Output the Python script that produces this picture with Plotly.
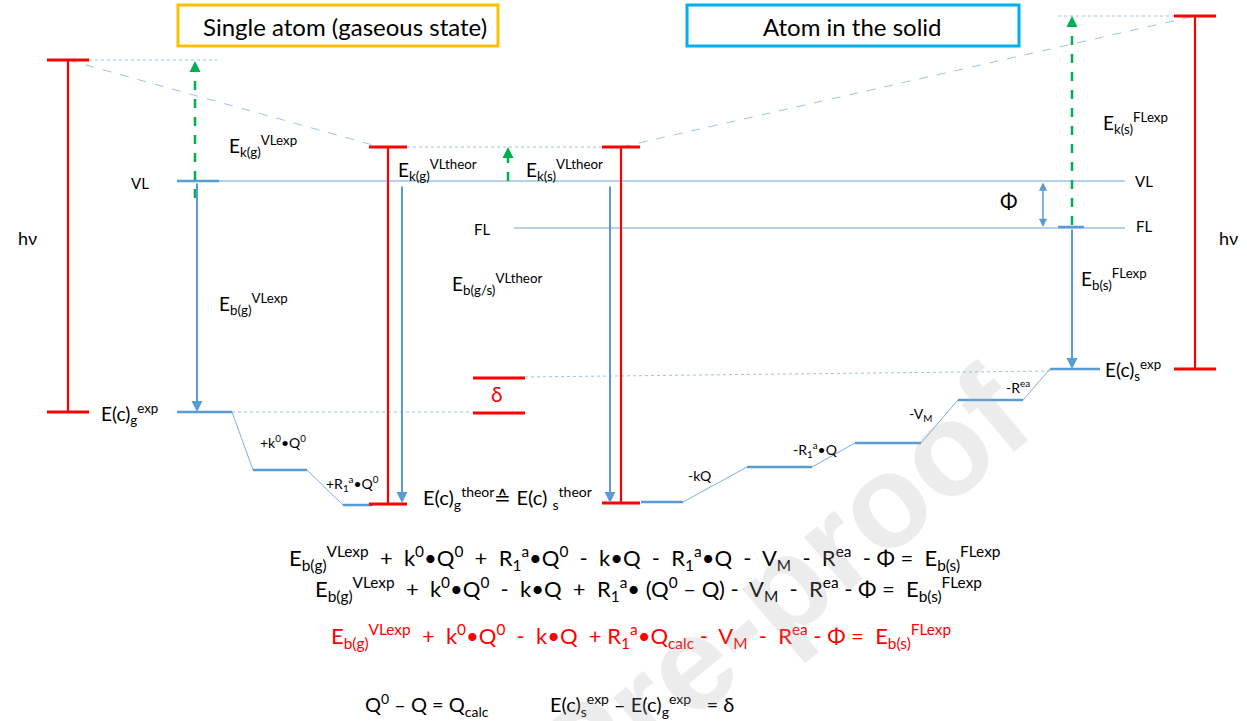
import plotly.graph_objects as go

W, H = 1247, 721
BLUE = "#5B9BD5"
LBLUE = "#9DC3E6"
RED = "#FF0000"
GREEN = "#00B050"
FONT = "Lato"

# ---- energy-level data (diagram scale, y grows downward) ----
hv_bar_x = [68, 388, 621, 1195]
hv_bar_top = [60, 147, 147, 16]
hv_bar_bottom = [412, 504, 503, 369]
hv_cap_half = [21, 19, 19, 21]

vl_y = 181
fl_y = 228
vl_x = [177, 1125]
fl_x = [514, 1125]

gas_steps_x = [177, 232, 253, 307, 343, 373]
gas_steps_y = [412, 412, 470, 470, 505, 505]
solid_steps_x = [641, 683, 747, 812, 855, 921, 958, 1023, 1050, 1100]
solid_steps_y = [502, 502, 467, 467, 443, 443, 400, 400, 369, 369]
step_labels = ["+k<sup>0</sup>•Q<sup>0</sup>", "+R<sub>1</sub><sup>a</sup>•Q<sup>0</sup>",
               "-kQ", "-R<sub>1</sub><sup>a</sup>•Q", "-V<sub>M</sub>", "-R<sup>ea</sup>"]

delta_x = [473, 525]
delta_y = [378, 413]

# arrows: (x, y_from, y_to)
blue_arrows_x = [197, 402, 610, 1072]
blue_arrows_from = [182, 185, 185, 228]
blue_arrows_to = [412, 503, 503, 369]
green_arrows_x = [195, 508, 1072]
green_arrows_from = [198, 181, 225]
green_arrows_to = [61, 147, 16]
phi_x = 1043

fig = go.Figure()

def line(xs, ys, color, width, dash=None):
    fig.add_trace(go.Scatter(x=xs, y=ys, mode="lines", hoverinfo="skip",
                             line=dict(color=color, width=width, dash=dash)))

# guide lines (dotted / dashed)
line([hv_bar_x[0] + hv_cap_half[0], 217], [hv_bar_top[0]] * 2, LBLUE, 1, "dot")
line([hv_bar_x[1] + hv_cap_half[1], hv_bar_x[2] - hv_cap_half[2]], [hv_bar_top[1]] * 2, LBLUE, 1, "dot")
line([1058, hv_bar_x[3] - hv_cap_half[3]], [hv_bar_top[3]] * 2, LBLUE, 1, "dot")
line([hv_bar_x[0], hv_bar_x[1] - 8], [hv_bar_top[0], hv_bar_top[1]], LBLUE, 1, "dash")
line([hv_bar_x[2], hv_bar_x[3]], [hv_bar_top[2], hv_bar_top[3]], LBLUE, 1, "dash")
line([gas_steps_x[1], delta_x[0]], [gas_steps_y[0]] * 2, LBLUE, 1, "dot")
line([delta_x[1], solid_steps_x[-2]], [delta_y[0] - 1, solid_steps_y[-1] + 2], LBLUE, 1, "dot")

# VL / FL
line(vl_x, [vl_y] * 2, LBLUE, 1.3)
line(fl_x, [fl_y] * 2, LBLUE, 1.3)
line([177, 219], [vl_y] * 2, BLUE, 2.5)
line([1058, 1084], [fl_y - 1] * 2, BLUE, 2.5)

# staircases
for xs, ys in [(gas_steps_x, gas_steps_y), (solid_steps_x, solid_steps_y)]:
    for i in range(0, len(xs), 2):
        line(xs[i:i + 2], ys[i:i + 2], BLUE, 2.5)
    for i in range(1, len(xs) - 1, 2):
        line(xs[i:i + 2], ys[i:i + 2], BLUE, 0.8)

# red hv bars
for x, t, b, h in zip(hv_bar_x, hv_bar_top, hv_bar_bottom, hv_cap_half):
    line([x, x], [t, b], RED, 2.2)
    line([x - h, x + h], [t, t], RED, 2.8)
    line([x - h, x + h], [b, b], RED, 2.8)

# delta marks
for y in delta_y:
    line(delta_x, [y, y], RED, 2.8)

# green dashed arrows
for x, y0, y1 in zip(green_arrows_x, green_arrows_from, green_arrows_to):
    line([x, x], [y0, y1 + 8], GREEN, 2.5, "dash")
    fig.add_annotation(x=x, y=y1, ax=x, ay=y1 + 10, xref="x", yref="y", axref="x", ayref="y",
                       showarrow=True, arrowhead=2, arrowsize=1.1, arrowwidth=2, arrowcolor=GREEN, text="")

# blue arrows
for x, y0, y1 in zip(blue_arrows_x, blue_arrows_from, blue_arrows_to):
    fig.add_annotation(x=x, y=y1, ax=x, ay=y0, xref="x", yref="y", axref="x", ayref="y",
                       showarrow=True, arrowhead=2, arrowsize=1.1, arrowwidth=2, arrowcolor=BLUE, text="")
fig.add_annotation(x=phi_x, y=fl_y - 1, ax=phi_x, ay=vl_y, xref="x", yref="y", axref="x", ayref="y",
                   showarrow=True, arrowhead=2, startarrowhead=2, arrowside="end+start",
                   arrowsize=1.1, arrowwidth=1.5, arrowcolor=BLUE, text="")

# title boxes
fig.add_shape(type="rect", x0=178, x1=498, y0=5, y1=46, line=dict(color="#FFC000", width=3))
fig.add_shape(type="rect", x0=687, x1=1019, y0=5, y1=46, line=dict(color="#00B0F0", width=3))

def text(x, y, s, size, color="black", anchor="left"):
    fig.add_annotation(x=x, y=y, xref="x", yref="y", text=s, showarrow=False,
                       xanchor=anchor, yanchor="middle",
                       font=dict(family=FONT, size=size, color=color))

text(345, 26, "Single atom (gaseous state)", 24, anchor="center")
text(852, 26, "Atom in the solid", 24, anchor="center")
text(27, 238, "hν", 18, anchor="center")
text(1228, 238, "hν", 18, anchor="center")
text(140, 183, "VL", 15, anchor="center")
text(1144, 181, "VL", 15, anchor="center")
text(1144, 226, "FL", 15, anchor="center")
text(482, 229, "FL", 15, anchor="center")
text(1008, 200, "Φ", 21, anchor="center")
text(497, 393, "δ", 21, RED, anchor="center")

text(227, 146, "E<sub>k(g)</sub><sup>VLexp</sup>", 19)
text(396, 170, "E<sub>k(g)</sub><sup>VLtheor</sup>", 19)
text(524, 170, "E<sub>k(s)</sub><sup>VLtheor</sup>", 19)
text(450, 284, "E<sub>b(g/s)</sub><sup>VLtheor</sup>", 19)
text(217, 304, "E<sub>b(g)</sub><sup>VLexp</sup>", 19)
text(99, 414, "E(c)<sub>g</sub><sup>exp</sup>", 19)
text(1101, 123, "E<sub>k(s)</sub><sup>FLexp</sup>", 19)
text(1079, 279, "E<sub>b(s)</sub><sup>FLexp</sup>", 19)
text(1103, 370, "E(c)<sub>s</sub><sup>exp</sup>", 19)
text(421, 498, "E(c)<sub>g</sub><sup>theor</sup>≙ E(c) <sub>s</sub><sup>theor</sup>", 20)

step_label_pos = [(283, 441), (352, 483), (700, 475), (815, 449), (920, 414), (1018, 386)]
for (x, y), s in zip(step_label_pos, step_labels):
    text(x, y, s, 14, anchor="center")

S = "&nbsp;&nbsp;"
eq1 = (f"E<sub>b(g)</sub><sup>VLexp</sup>{S}+{S}k<sup>0</sup>•Q<sup>0</sup>{S}+{S}R<sub>1</sub><sup>a</sup>•Q<sup>0</sup>"
       f"{S}-{S}k•Q{S}-{S}R<sub>1</sub><sup>a</sup>•Q{S}-{S}V<sub>M</sub>{S}-{S}R<sup>ea</sup>{S}- Φ ={S}E<sub>b(s)</sub><sup>FLexp</sup>")
eq2 = (f"E<sub>b(g)</sub><sup>VLexp</sup>{S}+{S}k<sup>0</sup>•Q<sup>0</sup>{S}-{S}k•Q{S}+{S}R<sub>1</sub><sup>a</sup>• (Q<sup>0</sup> – Q)"
       f" -{S}V<sub>M</sub>{S}-{S}R<sup>ea</sup> - Φ ={S}E<sub>b(s)</sub><sup>FLexp</sup>")
eq3 = (f"E<sub>b(g)</sub><sup>VLexp</sup>{S}+{S}k<sup>0</sup>•Q<sup>0</sup>{S}-{S}k•Q{S}+ R<sub>1</sub><sup>a</sup>•Q<sub>calc</sub>"
       f" -{S}V<sub>M</sub>{S}-{S}R<sup>ea</sup> - Φ ={S}E<sub>b(s)</sub><sup>FLexp</sup>")
eq4 = ("Q<sup>0</sup> – Q = Q<sub>calc</sub>&nbsp;&nbsp;&nbsp;&nbsp;&nbsp;&nbsp;&nbsp;&nbsp;&nbsp;&nbsp;&nbsp;&nbsp;"
       "E(c)<sub>s</sub><sup>exp</sup> – E(c)<sub>g</sub><sup>exp</sup>&nbsp;&nbsp;&nbsp;= δ")
text(644, 558, eq1, 22, anchor="center")
text(648, 589, eq2, 22, anchor="center")
text(641, 636, eq3, 22, RED, anchor="center")
text(549, 705, eq4, 20, anchor="center")

# watermark
fig.add_annotation(x=585 / W, y=1 - 752 / H, xref="paper", yref="paper", text="<b>Journal Pre-proof</b>",
                   showarrow=False, textangle=-40, xanchor="center", yanchor="middle",
                   font=dict(family="Liberation Sans", size=132, color="rgba(170,170,170,0.22)"))

fig.update_xaxes(range=[0, W], visible=False, fixedrange=True)
fig.update_yaxes(range=[H, 0], visible=False, fixedrange=True)
fig.update_layout(width=W, height=H, margin=dict(l=0, r=0, t=0, b=0), autosize=False,
                  showlegend=False, plot_bgcolor="white", paper_bgcolor="white")
fig.write_html("out.html", config={"displayModeBar": False})
